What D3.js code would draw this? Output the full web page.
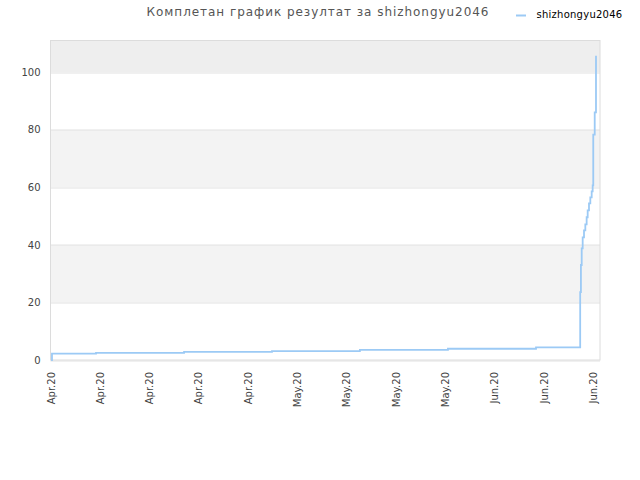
<!DOCTYPE html>
<html>
<head>
<meta charset="utf-8">
<script src="https://cdn.jsdelivr.net/npm/d3@7"></script>
<style>
	body { margin: 0; background: #fff; }
	text { font-family: "DejaVu Sans", sans-serif; }
</style>
</head>
<body>
<svg class="result-chart"></svg>
<script>
var titleText = 'Комплетан график резултат за shizhongyu2046';
var seriesName = 'shizhongyu2046';

// when the score changed, and to what
var stepTimes = [
	'2020-04-01 02:00', '2020-04-01 05:00', '2020-04-07 11:00', '2020-04-19 23:00',
	'2020-05-02 10:30', '2020-05-14 22:00', '2020-05-27 10:00', '2020-06-08 22:00',
	'2020-06-15 04:30', '2020-06-15 07:00', '2020-06-15 09:40', '2020-06-15 13:00',
	'2020-06-15 17:30', '2020-06-15 22:00', '2020-06-16 02:30', '2020-06-16 06:00',
	'2020-06-16 10:30', '2020-06-16 15:00', '2020-06-16 19:40', '2020-06-16 23:00',
	'2020-06-17 01:00', '2020-06-17 06:00', '2020-06-17 10:20'
];
var stepValues = [
	0, 2.2, 2.5, 2.8,
	3.1, 3.5, 3.9, 4.4,
	23.6, 33, 38.8, 42.6,
	45, 47.1, 49.6, 52,
	54.4, 56.5, 58.6, 60.7,
	78.3, 86, 105.7
];

var xDomain = ['2020-04-01 00:00', '2020-06-18 00:00'];
var xTicks = ['2020-04-01', '2020-04-08', '2020-04-15', '2020-04-22', '2020-04-29', '2020-05-06',
	'2020-05-13', '2020-05-20', '2020-05-27', '2020-06-03', '2020-06-10', '2020-06-17'];
var yTicks = [0, 20, 40, 60, 80, 100];
var yMax = 111;

var parseTime = d3.timeParse('%Y-%m-%d %H:%M'),
    parseDay = d3.timeParse('%Y-%m-%d');

var data = stepTimes.map(function(t, i) { return {date: parseTime(t), value: stepValues[i]} });

var margin = {top: 40.5, right: 40, bottom: 120, left: 50.5};
var w = 640 - margin.left - margin.right,
    h = 480 - margin.top - margin.bottom;

var svg = d3.select('.result-chart')
	.attr('width', 640)
	.attr('height', 480);

var g = svg.append('g')
	.attr('transform', 'translate(' + margin.left + ',' + margin.top + ')');

var x = d3.scaleTime()
	.domain(xDomain.map(parseTime))
	.range([0, w]);

var y = d3.scaleLinear()
	.domain([0, yMax])
	.range([h, 0]);

// alternating bands
var bandEdges = yTicks.concat([yMax]);
g.selectAll('rect.band')
	.data(d3.pairs(bandEdges))
  .enter().append('rect')
	.attr('class', 'band')
	.attr('x', 0)
	.attr('width', w)
	.attr('y', function(d) { return y(d[1]) })
	.attr('height', function(d) { return y(d[0]) - y(d[1]) })
	.attr('fill', function(d, i) {
		if (i == bandEdges.length - 2) return '#eeeeee';
		return i % 2 ? '#f3f3f3' : '#ffffff';
	});

g.selectAll('line.grid')
	.data(yTicks)
  .enter().append('line')
	.attr('class', 'grid')
	.attr('x1', 0)
	.attr('x2', w)
	.attr('y1', function(d) { return Math.round(y(d)) + 0.5 })
	.attr('y2', function(d) { return Math.round(y(d)) + 0.5 })
	.attr('stroke', '#e2e2e2');

g.append('rect')
	.attr('width', w)
	.attr('height', h)
	.attr('fill', 'none')
	.attr('stroke', '#dcdcdc');

// y axis labels
var yAxis = d3.axisLeft(y)
	.tickValues(yTicks)
	.tickSize(0)
	.tickPadding(10);

g.append('g')
	.call(yAxis)
	.call(function(a) { a.select('.domain').remove() })
	.selectAll('text')
	  .attr('font-size', 10)
	  .attr('font-family', '"DejaVu Sans", sans-serif')
	  .attr('fill', '#444');

// x axis labels, turned on their side
var xAxis = d3.axisBottom(x)
	.tickValues(xTicks.map(parseDay))
	.tickFormat(d3.timeFormat('%b.%y'))
	.tickSize(0);

g.append('g')
	.attr('transform', 'translate(0,' + h + ')')
	.call(xAxis)
	.call(function(a) { a.select('.domain').remove() })
	.selectAll('text')
	  .attr('font-size', 10)
	  .attr('font-family', '"DejaVu Sans", sans-serif')
	  .attr('fill', '#444')
	  .attr('text-anchor', 'end')
	  .attr('dy', null)
	  .attr('y', 0)
	  .attr('transform', 'translate(3.5,12) rotate(-90)');

var line = d3.line()
	.curve(d3.curveStepAfter)
	.x(function(d) { return x(d.date) })
	.y(function(d) { return y(d.value) });

g.append('path')
	.datum(data)
	.attr('d', line)
	.attr('fill', 'none')
	.attr('stroke', '#9ccaf5')
	.attr('stroke-width', 1.8);

svg.append('text')
	.attr('x', 318)
	.attr('y', 16)
	.attr('text-anchor', 'middle')
	.attr('font-size', 12)
	.attr('letter-spacing', 0.95)
	.attr('fill', '#555')
	.text(titleText);

// legend
svg.append('line')
	.attr('x1', 516)
	.attr('x2', 526)
	.attr('y1', 15.5)
	.attr('y2', 15.5)
	.attr('stroke', '#9ccaf5')
	.attr('stroke-width', 2);

svg.append('text')
	.attr('x', 536.5)
	.attr('y', 18)
	.attr('font-size', 10)
	.attr('letter-spacing', 0.25)
	.attr('fill', '#000')
	.text(seriesName);
</script>
</body>
</html>
